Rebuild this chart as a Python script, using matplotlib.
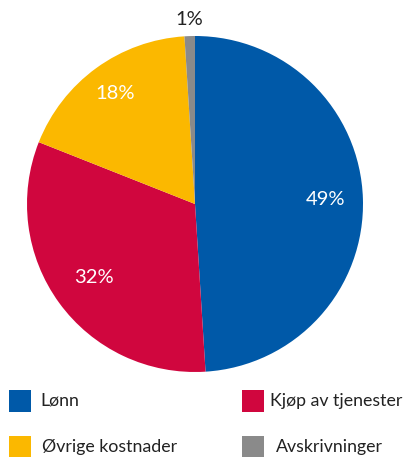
import numpy as np
import matplotlib
matplotlib.use("Agg")
import matplotlib.pyplot as plt
from matplotlib.patches import Rectangle

labels = ["Lønn", "Kjøp av tjenester", "Øvrige kostnader", "Avskrivninger"]
values = [49, 32, 18, 1]
pct_labels = ["49%", "32%", "18%", "1%"]
colors = ["#0059A8", "#D0063E", "#FBB800", "#8A8A8A"]
label_colors = ["white", "white", "white", "#222222"]
label_dist = [0.78, 0.74, 0.81, 1.10]

plt.rcParams['font.family'] = ['Lato', 'DejaVu Sans']

W, H = 407, 457
fig = plt.figure(figsize=(W/100, H/100), dpi=100)
cx, cy, r = 195, 204, 168
ax = fig.add_axes([(cx-r)/W, (H-cy-r)/H, 2*r/W, 2*r/H])
ax.pie(values, colors=colors, startangle=90, counterclock=False,
       wedgeprops=dict(linewidth=0))
ax.set_xlim(-1, 1)
ax.set_ylim(-1, 1)
ax.set_aspect('equal')
ax.axis('off')

total = sum(values)
cum = 0
for v, t, c, d in zip(values, pct_labels, label_colors, label_dist):
    mid = 90 - 360 * (cum + v/2) / total
    cum += v
    a = np.deg2rad(mid)
    ax.text(d*np.cos(a), d*np.sin(a), t, color=c, fontsize=14.5,
            ha='center', va='center')

# legend
pos = [(9, 390, 40), (242, 390, 270), (9, 436, 42), (242, 436, 276)]
for (sx, sy, tx), lab, col in zip(pos, labels, colors):
    fig.patches.append(Rectangle((sx/W, (H-sy-22)/H), 22/W, 22/H,
                                 transform=fig.transFigure, color=col, lw=0))
    fig.text(tx/W, (H-sy-11)/H, lab, fontsize=12.8, va='center', ha='left',
             color='#222222')

fig.savefig("out.png", dpi=100)
